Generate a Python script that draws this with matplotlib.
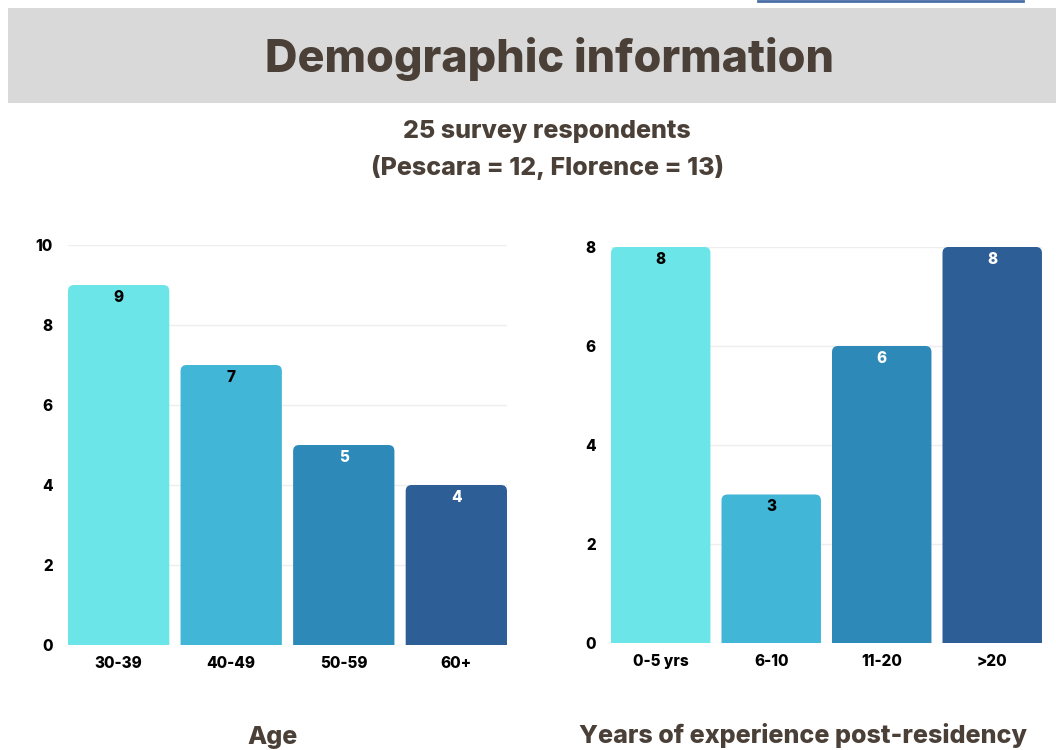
import matplotlib.pyplot as plt
from matplotlib.patches import FancyBboxPatch, Rectangle
from matplotlib.lines import Line2D

plt.rcParams['font.family'] = ['Inter', 'DejaVu Sans']

age_groups = ['30-39', '40-49', '50-59', '60+']
age_counts = [9, 7, 5, 4]

exp_groups = ['0-5 yrs', '6-10', '11-20', '>20']
exp_counts = [8, 3, 6, 8]

bar_colors = ['#6ce5e8', '#42b6d6', '#2d8ab8', '#2e5e96']
label_colors = ['black', 'black', 'white', 'white']

TITLE = 'Demographic information'
SUBTITLE = '25 survey respondents\n(Pescara = 12, Florence = 13)'
BROWN = '#4a4038'
HEAVY = 800


def rounded_bars(ax, cats, vals, ymax, ticks, ypad):
    x = range(len(cats))
    bars = ax.bar(x, vals, width=0.9, color=bar_colors)
    ax.set_xlim(-0.45, len(cats) - 0.55)
    ax.set_ylim(0, ymax)
    fig = ax.figure
    bb = ax.get_position()
    px_w = bb.width * fig.get_figwidth() * fig.dpi
    px_h = bb.height * fig.get_figheight() * fig.dpi
    xu = (len(cats) - 0.1) / px_w   # data units per pixel (x)
    yu = ymax / px_h                # data units per pixel (y)
    r = 6 * xu
    for b, c in zip(bars, bar_colors):
        b.set_visible(False)
        p = FancyBboxPatch((b.get_x(), -10 * yu), b.get_width(), b.get_height() + 10 * yu,
                           boxstyle=f'round,pad=0,rounding_size={r}',
                           mutation_aspect=yu / xu, facecolor=c, edgecolor='none',
                           zorder=2)
        ax.add_patch(p)
    for i, (v, lc) in enumerate(zip(vals, label_colors)):
        ax.text(i, v - ypad * yu, str(v), ha='center', va='top', fontsize=11,
                fontweight=HEAVY, color=lc, zorder=3)
    ax.set_yticks(ticks)
    ax.set_xticks(list(x))
    ax.set_xticklabels(cats)
    for s in ax.spines.values():
        s.set_visible(False)
    ax.grid(axis='y', color='#eeeeee', linewidth=1, zorder=0)
    ax.set_axisbelow(True)
    ax.tick_params(axis='both', length=0, labelsize=11)
    ax.tick_params(axis='y', pad=11)
    ax.tick_params(axis='x', pad=8)
    for lab in ax.get_xticklabels() + ax.get_yticklabels():
        lab.set_fontweight(HEAVY)


fig = plt.figure(figsize=(10.56, 7.5), dpi=100)

# title band
fig.patches.append(Rectangle((0.0076, 0.8627), 0.9924, 0.1266, transform=fig.transFigure,
                             facecolor='#d9d9d9', edgecolor='none', zorder=0))
fig.lines.append(Line2D([0.718, 0.969], [0.999, 0.999], transform=fig.transFigure,
                        color='#4a6ea8', linewidth=2))
fig.text(0.52, 0.921, TITLE, ha='center', va='center', fontsize=32.3,
         fontweight=HEAVY, color=BROWN)
fig.text(0.518, 0.8, SUBTITLE, ha='center', va='center', fontsize=18,
         fontweight=HEAVY, color=BROWN, linespacing=1.6)

ax1 = fig.add_axes([0.0644, 0.14, 0.4157, 0.5333])
rounded_bars(ax1, age_groups, age_counts, 10, [0, 2, 4, 6, 8, 10], 5)

ax2 = fig.add_axes([0.5786, 0.1427, 0.4081, 0.528])
rounded_bars(ax2, exp_groups, exp_counts, 8, [0, 2, 4, 6, 8], 5)

fig.text(0.2585, 0.017, 'Age', ha='center', va='center', fontsize=18,
         fontweight=HEAVY, color=BROWN)
fig.text(0.7605, 0.02, 'Years of experience post-residency', ha='center', va='center',
         fontsize=18.1, fontweight=HEAVY, color=BROWN)

fig.savefig('out.png', dpi=100)
